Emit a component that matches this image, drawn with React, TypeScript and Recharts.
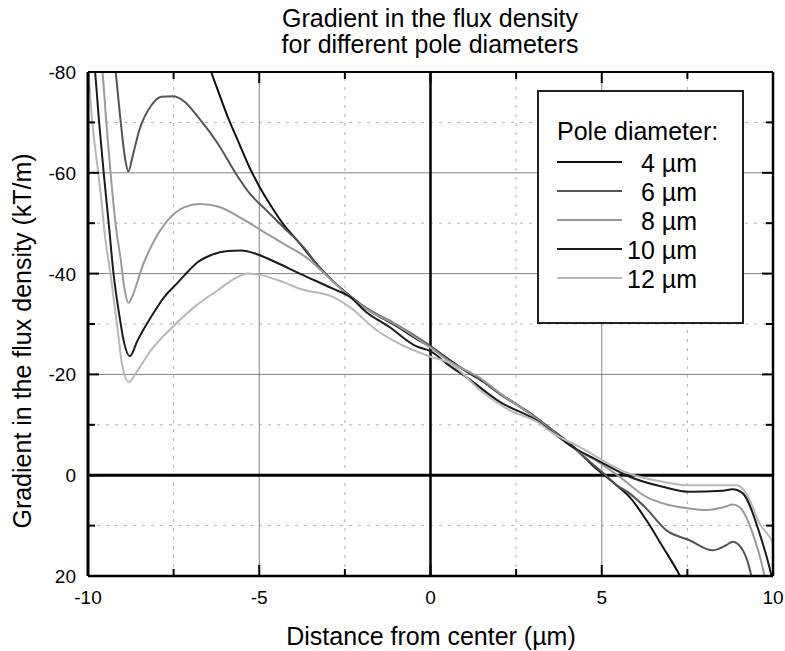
import React from 'react';
import { LineChart, Line, XAxis, YAxis, ReferenceLine, Legend } from 'recharts';

const FONT = '"Liberation Sans", Arial, Helvetica, sans-serif';

// Axis ticks (minor ticks carry no label)
const xTicks = [-10, -7.5, -5, -2.5, 0, 2.5, 5, 7.5, 10];
const xLabeled = [-10, -5, 0, 5, 10];
const yTicks = [-80, -70, -60, -50, -40, -30, -20, -10, 0, 10, 20];
const yLabeled = [-80, -60, -40, -20, 0, 20];

// Grid lines
const xMajorGrid = [-5, 5];
const xMinorGrid = [-7.5, -2.5, 2.5, 7.5];
const yMajorGrid = [-60, -40, -20];
const yMinorGrid = [-70, -50, -30, -10, 10];

// Series names and stroke colours
const diameters = ['4 \u00b5m', '6 \u00b5m', '8 \u00b5m', '10 \u00b5m', '12 \u00b5m'];
const strokes = ['#111111', '#555555', '#9a9a9a', '#1c1c1c', '#b8b8b8'];

// Gradient (kT/m) vs distance from center (µm), one list per pole diameter
const pole4: [number, number][] = [
  [-6.6, -85], [-6.42, -80.4], [-6.21, -76.4], [-5.92, -71.1], [-5.63, -66.5],
  [-5.28, -61.0], [-4.99, -57.2], [-4.7, -53.9], [-4.31, -49.9], [-3.82, -46.0],
  [-3.34, -42.0], [-3.0, -39.5], [-2.46, -36.2], [-1.88, -33.1], [-1.0, -29.6],
  [-0.4, -27.0], [0, -25.5], [0.55, -22.9], [1.0, -20.8], [1.53, -18.6],
  [2.0, -16.3], [2.5, -14.1], [3.0, -11.8], [3.47, -9.4], [4.15, -5.8],
  [4.84, -1.3], [5.08, 0], [5.5, 2.4], [5.81, 4.3], [6.3, 8.9], [6.78, 14.2],
  [7.27, 19.8], [7.5, 23],
];
const pole6: [number, number][] = [
  [-9.3, -85], [-9.2, -80.4], [-9.05, -70.4], [-8.91, -62.5], [-8.82, -60.3],
  [-8.7, -63.2], [-8.5, -68.5], [-8.15, -73.4], [-7.86, -75.1], [-7.52, -75.2],
  [-7.18, -74.1], [-6.79, -71.1], [-6.22, -65.9], [-5.67, -59.7], [-5.28, -55.9],
  [-4.8, -52.6], [-4.31, -49.3], [-3.63, -44.6], [-3.34, -42.0], [-3.05, -39.9],
  [-2.46, -36.1], [-1.88, -33.2], [-1.0, -29.9], [0, -25.6], [0.55, -22.7],
  [1.53, -18.7], [2.0, -16.2], [3.0, -11.9], [3.47, -9.4], [4.15, -5.6],
  [4.84, -1.6], [5.12, 0], [5.4, 1.8], [5.81, 3.6], [6.3, 6.6], [6.88, 10.9],
  [7.56, 12.9], [8.24, 14.9], [8.63, 13.9], [8.82, 13.2], [9.12, 14.9],
  [9.36, 19.8], [9.45, 23],
];
const pole8: [number, number][] = [
  [-9.65, -85], [-9.58, -80.4], [-9.47, -70.4], [-9.34, -59.9], [-9.19, -49.6],
  [-9.05, -43.0], [-8.92, -36.4], [-8.82, -34.2], [-8.7, -35.6], [-8.55, -38.5],
  [-8.46, -40.5], [-8.16, -45.3], [-7.67, -50.6], [-7.18, -53.2], [-6.74, -53.8],
  [-6.21, -53.3], [-5.43, -50.6], [-4.85, -48.2], [-4.31, -46.0], [-3.53, -42.7],
  [-3.24, -40.9], [-3.0, -39.4], [-2.46, -36.0], [-1.88, -33.0], [-1.0, -29.8],
  [0, -25.3], [0.55, -22.6], [1.53, -18.9], [2.0, -16.4], [3.0, -11.7],
  [3.47, -9.2], [4.15, -5.5], [4.84, -2.9], [5.52, 0.3], [6.3, 4.3], [6.9, 5.8],
  [7.56, 6.6], [8.05, 6.9], [8.63, 6.2], [8.82, 5.8], [9.02, 6.3], [9.41, 11.6],
  [9.75, 19.8], [9.85, 23],
];
const pole10: [number, number][] = [
  [-9.9, -85], [-9.8, -80.4], [-9.68, -70.4], [-9.54, -59.9], [-9.39, -49.6],
  [-9.25, -39.7], [-9.1, -32.4], [-8.95, -26.4], [-8.78, -23.6], [-8.55, -26.8],
  [-8.16, -31.4], [-7.77, -35.4], [-7.38, -38.2], [-7.18, -39.7], [-6.79, -42.3],
  [-6.4, -43.7], [-5.92, -44.5], [-5.53, -44.6], [-5.04, -43.8], [-4.5, -42.2],
  [-3.82, -40.0], [-2.85, -37.0], [-2.36, -35.4], [-1.88, -32.4], [-1.2, -29.4],
  [-0.42, -25.6], [0, -24.6], [0.5, -22.0], [1.04, -19.5], [2.01, -14.6],
  [3.18, -10.5], [3.47, -9.0], [4.15, -5.6], [4.84, -3.1], [5.81, 0.3],
  [6.78, 2.3], [7.56, 3.3], [8.53, 3.1], [8.82, 2.8], [9.12, 3.6], [9.61, 11.6],
  [9.95, 19.8], [10.05, 23],
];
const pole12: [number, number][] = [
  [-10.05, -85], [-9.99, -80.4], [-9.88, -70.4], [-9.7, -59.9], [-9.58, -52.6],
  [-9.54, -49.6], [-9.34, -39.7], [-9.15, -29.8], [-9.0, -21.8], [-8.81, -18.5],
  [-8.55, -20.8], [-8.16, -24.8], [-7.47, -29.8], [-6.89, -33.4], [-6.21, -36.7],
  [-5.72, -39.0], [-5.33, -40.0], [-4.94, -39.7], [-4.26, -38.2], [-3.82, -37.0],
  [-2.85, -35.4], [-2.36, -33.4], [-1.58, -28.8], [-1.0, -26.4], [0, -23.5],
  [0.55, -22.3], [1.53, -16.4], [2.3, -12.9], [3.18, -10.3], [3.47, -8.8],
  [4.35, -5.6], [5.81, -0.3], [6.78, 1.3], [7.56, 2.0], [8.93, 2.0], [9.22, 3.6],
  [9.61, 9.6], [10.04, 14.2], [10.2, 18],
];

const seriesData = [pole4, pole6, pole8, pole10, pole12];
const toPoints = (pairs: [number, number][]) => pairs.map(([x, y]) => ({ x, y }));

// Inward tick marks, drawn by the tick renderers (axes use tickSize 0, so x/y sit on the axis line)
const MAJOR_LEN = 11;
const MINOR_LEN = 7;
const MARK = '#000';
const MARK_W = 2;

const BottomTick = (props: any) => {
  const { x, y, payload } = props;
  const v = payload.value;
  const major = xLabeled.includes(v);
  return (
    <g>
      <line x1={x} x2={x} y1={y} y2={y - (major ? MAJOR_LEN : MINOR_LEN)} stroke={MARK} strokeWidth={MARK_W} />
      {major && (
        <text x={x} y={y + 28} textAnchor="middle" fontSize={19} fontFamily={FONT} fill="#000">
          {String(v)}
        </text>
      )}
    </g>
  );
};

const TopTick = (props: any) => {
  const { x, y, payload } = props;
  const major = xLabeled.includes(payload.value);
  return <line x1={x} x2={x} y1={y} y2={y + (major ? MAJOR_LEN : MINOR_LEN)} stroke={MARK} strokeWidth={MARK_W} />;
};

const LeftTick = (props: any) => {
  const { x, y, payload } = props;
  const v = payload.value;
  const major = yLabeled.includes(v);
  return (
    <g>
      <line x1={x} x2={x + (major ? MAJOR_LEN : MINOR_LEN)} y1={y} y2={y} stroke={MARK} strokeWidth={MARK_W} />
      {major && (
        <text x={x - 12} y={y + 7} textAnchor="end" fontSize={19} fontFamily={FONT} fill="#000">
          {String(v)}
        </text>
      )}
    </g>
  );
};

const RightTick = (props: any) => {
  const { x, y, payload } = props;
  const major = yLabeled.includes(payload.value);
  return <line x1={x} x2={x - (major ? MAJOR_LEN : MINOR_LEN)} y1={y} y2={y} stroke={MARK} strokeWidth={MARK_W} />;
};

const LegendBox = () => (
  <svg width={207} height={234} style={{ display: 'block' }}>
    <rect x={1} y={1} width={205} height={232} fill="#fff" stroke="#222" strokeWidth={2} />
    <text x={20} y={50} fontSize={25} fontFamily={FONT} fill="#000">
      Pole diameter:
    </text>
    {diameters.map((name, i) => {
      const ly = 72 + 29 * i;
      return (
        <g key={name}>
          <line x1={20} x2={85} y1={ly} y2={ly} stroke={strokes[i]} strokeWidth={2} />
          <text x={160} y={ly + 10} textAnchor="end" fontSize={25} fontFamily={FONT} fill="#000">
            {name}
          </text>
        </g>
      );
    })}
  </svg>
);

export default function App() {
  return (
    <div style={{ position: 'absolute', left: 0, top: 0, width: 785, height: 651, background: '#fff' }}>
      <LineChart width={785} height={651} margin={{ top: 71, right: 11, bottom: 45, left: 48 }}>
        <XAxis
          xAxisId="bottom"
          type="number"
          dataKey="x"
          domain={[-10, 10]}
          ticks={xTicks}
          interval={0}
          allowDataOverflow
          height={30}
          tickSize={0}
          tickMargin={0}
          tickLine={false}
          axisLine={{ stroke: '#000', strokeWidth: 2.5 }}
          tick={<BottomTick />}
        />
        <XAxis
          xAxisId="top"
          orientation="top"
          type="number"
          dataKey="x"
          domain={[-10, 10]}
          ticks={xTicks}
          interval={0}
          allowDataOverflow
          height={1}
          tickSize={0}
          tickMargin={0}
          tickLine={false}
          axisLine={{ stroke: '#000', strokeWidth: 2 }}
          tick={<TopTick />}
        />
        <YAxis
          yAxisId="left"
          type="number"
          domain={[-80, 20]}
          reversed
          ticks={yTicks}
          interval={0}
          allowDataOverflow
          width={40}
          tickSize={0}
          tickMargin={0}
          tickLine={false}
          axisLine={{ stroke: '#000', strokeWidth: 3 }}
          tick={<LeftTick />}
        />
        <YAxis
          yAxisId="right"
          orientation="right"
          type="number"
          domain={[-80, 20]}
          reversed
          ticks={yTicks}
          interval={0}
          allowDataOverflow
          width={1}
          tickSize={0}
          tickMargin={0}
          tickLine={false}
          axisLine={{ stroke: '#000', strokeWidth: 2.5 }}
          tick={<RightTick />}
        />

        {xMinorGrid.map((v) => (
          <ReferenceLine key={'xm' + v} xAxisId="bottom" yAxisId="left" x={v} stroke="#b0b0b0" strokeWidth={1} strokeDasharray="3 6" />
        ))}
        {yMinorGrid.map((v) => (
          <ReferenceLine key={'ym' + v} xAxisId="bottom" yAxisId="left" y={v} stroke="#b0b0b0" strokeWidth={1} strokeDasharray="3 6" />
        ))}
        {xMajorGrid.map((v) => (
          <ReferenceLine key={'xM' + v} xAxisId="bottom" yAxisId="left" x={v} stroke="#808080" strokeWidth={1} />
        ))}
        {yMajorGrid.map((v) => (
          <ReferenceLine key={'yM' + v} xAxisId="bottom" yAxisId="left" y={v} stroke="#808080" strokeWidth={1} />
        ))}
        <ReferenceLine xAxisId="bottom" yAxisId="left" x={0} stroke="#000" strokeWidth={2.5} />
        <ReferenceLine xAxisId="bottom" yAxisId="left" y={0} stroke="#000" strokeWidth={3} />

        {seriesData.map((pairs, i) => (
          <Line
            key={diameters[i]}
            name={diameters[i]}
            xAxisId="bottom"
            yAxisId="left"
            data={toPoints(pairs)}
            dataKey="y"
            type="monotone"
            stroke={strokes[i]}
            strokeWidth={2}
            dot={false}
            activeDot={false}
            isAnimationActive={false}
          />
        ))}

        <Legend
          layout="vertical"
          align="center"
          verticalAlign="middle"
          wrapperStyle={{ left: 537, top: 90, width: 207, height: 234 }}
          content={<LegendBox />}
        />

        <text x={430} y={27} textAnchor="middle" fontSize={25} fontFamily={FONT} fill="#000">
          Gradient in the flux density
        </text>
        <text x={430} y={53} textAnchor="middle" fontSize={25} fontFamily={FONT} fill="#000">
          for different pole diameters
        </text>
        <text x={431} y={645} textAnchor="middle" fontSize={25} fontFamily={FONT} fill="#000">
          {'Distance from center (\u00b5m)'}
        </text>
        <text
          x={31}
          y={341}
          textAnchor="middle"
          fontSize={25}
          fontFamily={FONT}
          fill="#000"
          transform="rotate(-90, 31, 341)"
        >
          Gradient in the flux density (kT/m)
        </text>
      </LineChart>
    </div>
  );
}
